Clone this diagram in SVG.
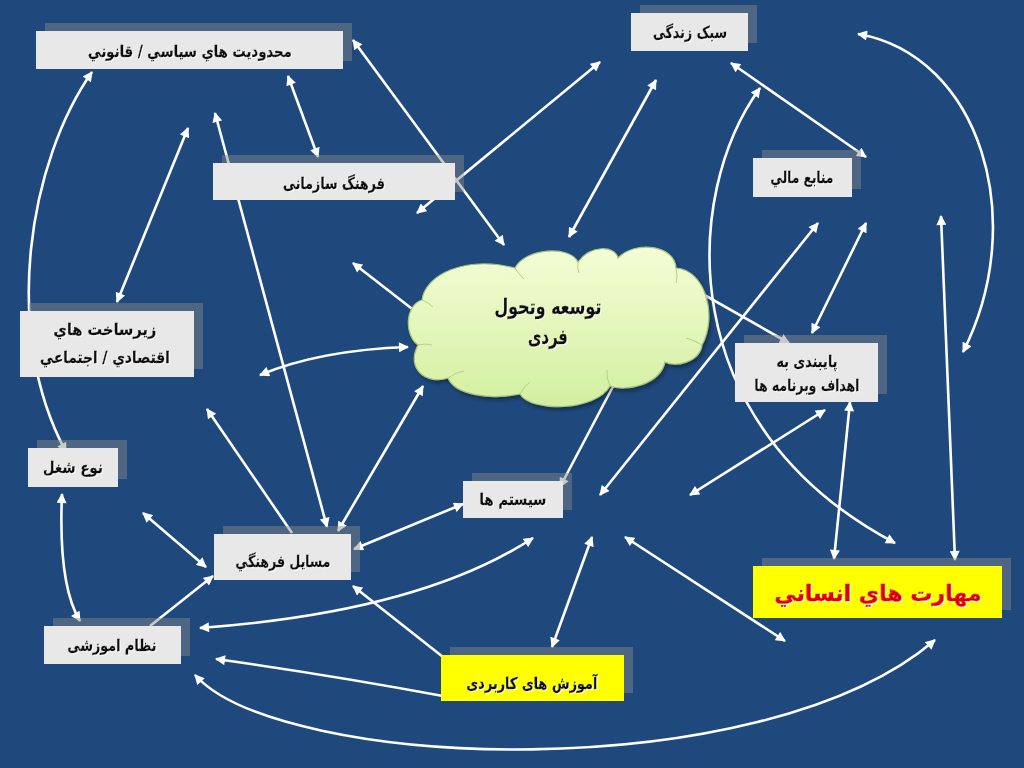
<svg xmlns="http://www.w3.org/2000/svg" width="1024" height="768" viewBox="0 0 1024 768">
<defs>
<marker id="ah" viewBox="0 0 10 10" refX="9" refY="5" markerWidth="11" markerHeight="10" markerUnits="userSpaceOnUse" orient="auto-start-reverse">
<path d="M0,0 L10,5 L0,10 z" fill="#FFFFFF"/>
</marker>
<linearGradient id="cloudFill" x1="0" y1="0" x2="0" y2="1">
<stop offset="0" stop-color="#F4FDD6"/>
<stop offset="1" stop-color="#D3EFA0"/>
</linearGradient>
<filter id="tshadow" x="-30%" y="-60%" width="160%" height="220%">
<feDropShadow dx="1" dy="1" stdDeviation="0.4" flood-color="#FFFFFF" flood-opacity="0.85"/>
</filter>
<filter id="cshadow" x="-10%" y="-10%" width="120%" height="130%">
<feDropShadow dx="2" dy="3" stdDeviation="2" flood-color="#000000" flood-opacity="0.35"/>
</filter>
</defs>
<style>
.bg{fill:#1F497D}
.c{fill:none;stroke:#FFFFFF;stroke-width:2.6}
.d{marker-start:url(#ah);marker-end:url(#ah)}
.s{marker-end:url(#ah)}
.sh{fill:#8A8A8A;fill-opacity:0.45}
.bx{fill:#E8E8E8}
.yb{fill:#FFFF00}
.t{font-family:"DejaVu Sans",sans-serif;font-weight:bold;font-size:16px;fill:#111111;stroke:#111111;stroke-width:0.3;text-anchor:middle;direction:rtl;filter:url(#tshadow)}
.big{font-size:21px}
.red{font-size:22px;fill:#E00000;stroke:#E00000;stroke-width:0.6}
</style>
<rect class="bg" x="0" y="0" width="1024" height="768"/>

<g id="connectors">
<path class="c d" d="M92,72 C30,160 0,330 66,452"/>
<path class="c d" d="M188,128 L117,302"/>
<path class="c d" d="M215,113 L327,527"/>
<path class="c d" d="M288,76 L318,157"/>
<path class="c d" d="M353,40 L504,245"/>
<path class="c d" d="M600,62 L417,213"/>
<path class="c d" d="M656,80 L569,237"/>
<path class="c d" d="M731,63 L866,157"/>
<path class="c d" d="M760,88 C682,195 672,425 895,543"/>
<path class="c d" d="M858,34 C980,55 1030,220 963,352"/>
<path class="c d" d="M941,216 L955,560"/>
<path class="c d" d="M818,223 L600,495"/>
<path class="c d" d="M866,223 L812,333"/>
<path class="c d" d="M692,288 L789,343"/>
<path class="c d" d="M338,531 L423,386"/>
<path class="c s" d="M292,533 L207,409"/>
<path class="c d" d="M260,375 Q320,350 408,347"/>
<path class="c d" d="M420,315 L353,263"/>
<path class="c d" d="M560,487 L618,377"/>
<path class="c d" d="M354,549 L463,504"/>
<path class="c d" d="M533,538 Q420,612 200,628"/>
<path class="c s" d="M443,657 L353,586"/>
<path class="c s" d="M443,696 Q330,675 216,659"/>
<path class="c d" d="M195,675 C280,770 760,790 935,640"/>
<path class="c d" d="M143,513 L206,567"/>
<path class="c s" d="M150,626 L213,576"/>
<path class="c d" d="M62,494 Q58,585 80,621"/>
<path class="c d" d="M592,537 L552,647"/>
<path class="c d" d="M625,537 L785,641"/>
<path class="c d" d="M850,402 L834,559"/>
<path class="c d" d="M825,410 L690,495"/>
</g>

<g id="cloud">
<path filter="url(#cshadow)" fill="url(#cloudFill)" stroke="#A9C47A" stroke-width="1.2" d="M418,345 C404,335 405,305 422,300 C425,275 465,255 515,268 C525,248 570,245 578,262 C590,245 615,245 618,258 C635,240 675,245 676,268 C705,270 718,315 702,345 C700,362 675,368 665,362 C660,385 625,392 610,386 C595,412 530,412 520,394 C490,400 455,395 448,378 C428,385 405,370 418,345 Z"/>
<path fill="none" stroke="#B7CF8A" stroke-width="1" d="M422,300 Q428,302 433,307 M515,268 Q519,274 524,279 M578,262 Q577,268 579,273 M676,268 Q678,276 676,283 M702,345 Q694,340 686,338 M610,386 Q606,378 607,370 M520,394 Q524,386 530,382 M448,378 Q456,372 464,371 M418,345 Q426,343 432,345"/>
<text class="t big" x="548" y="314" textLength="107" lengthAdjust="spacingAndGlyphs">توسعه وتحول</text>
<text class="t big" x="548" y="344" textLength="40" lengthAdjust="spacingAndGlyphs">فردی</text>
</g>

<g id="n-mahdudiyat">
<rect class="sh" x="45" y="23" width="307" height="38"/>
<rect class="bx" x="36" y="31" width="307" height="38"/>
<text class="t" x="190" y="57" textLength="204" lengthAdjust="spacingAndGlyphs">محدوديت هاي سياسي / قانوني</text>
</g>

<g id="n-farhang-sazmani">
<rect class="sh" x="222" y="155" width="242" height="37"/>
<rect class="bx" x="213" y="163" width="242" height="37"/>
<text class="t" x="334" y="189" textLength="102" lengthAdjust="spacingAndGlyphs">فرهنگ سازمانی</text>
</g>

<g id="n-sabk">
<rect class="sh" x="640" y="5" width="117" height="38"/>
<rect class="bx" x="631" y="13" width="117" height="38"/>
<text class="t" x="690" y="38" textLength="74" lengthAdjust="spacingAndGlyphs">سبک زندگی</text>
</g>

<g id="n-manabe">
<rect class="sh" x="762" y="150" width="99" height="39"/>
<rect class="bx" x="753" y="158" width="99" height="39"/>
<text class="t" x="802" y="183" textLength="63" lengthAdjust="spacingAndGlyphs">منابع مالي</text>
</g>

<g id="n-zirsakht">
<rect class="sh" x="29" y="303" width="174" height="66"/>
<rect class="bx" x="20" y="311" width="174" height="66"/>
<text class="t" x="105" y="335" textLength="103" lengthAdjust="spacingAndGlyphs">زيرساخت هاي</text>
<text class="t" x="105" y="363" textLength="130" lengthAdjust="spacingAndGlyphs">اقتصادي / اجتماعي</text>
</g>

<g id="n-noe-shoghl">
<rect class="sh" x="37" y="440" width="90" height="39"/>
<rect class="bx" x="28" y="448" width="90" height="39"/>
<text class="t" x="73" y="473" textLength="60" lengthAdjust="spacingAndGlyphs">نوع شغل</text>
</g>

<g id="n-systemha">
<rect class="sh" x="472" y="473" width="100" height="37"/>
<rect class="bx" x="463" y="481" width="100" height="37"/>
<text class="t" x="513" y="505" textLength="67" lengthAdjust="spacingAndGlyphs">سيستم ها</text>
</g>

<g id="n-masayel">
<rect class="sh" x="223" y="526" width="137" height="46"/>
<rect class="bx" x="214" y="534" width="137" height="46"/>
<text class="t" x="283" y="567" textLength="95" lengthAdjust="spacingAndGlyphs">مسايل فرهنگي</text>
</g>

<g id="n-nezam">
<rect class="sh" x="53" y="618" width="137" height="38"/>
<rect class="bx" x="44" y="626" width="137" height="38"/>
<text class="t" x="112" y="651" textLength="89" lengthAdjust="spacingAndGlyphs">نظام اموزشی</text>
</g>

<g id="n-amuzesh">
<rect class="sh" x="450" y="647" width="183" height="46"/>
<rect class="yb" x="441" y="655" width="183" height="46"/>
<text class="t" x="532" y="689" textLength="131" lengthAdjust="spacingAndGlyphs">آموزش های کاربردی</text>
</g>

<g id="n-maharat">
<rect class="sh" x="762" y="558" width="249" height="52"/>
<rect class="yb" x="753" y="566" width="249" height="52"/>
<text class="t red" x="878" y="601">مهارت هاي انساني</text>
</g>

<g id="n-paybandi">
<rect class="sh" x="744" y="335" width="143" height="59"/>
<rect class="bx" x="735" y="343" width="143" height="59"/>
<text class="t" x="807" y="367" textLength="61" lengthAdjust="spacingAndGlyphs">پایبندی به</text>
<text class="t" x="807" y="391" textLength="105" lengthAdjust="spacingAndGlyphs">اهداف وبرنامه ها</text>
</g>
</svg>
